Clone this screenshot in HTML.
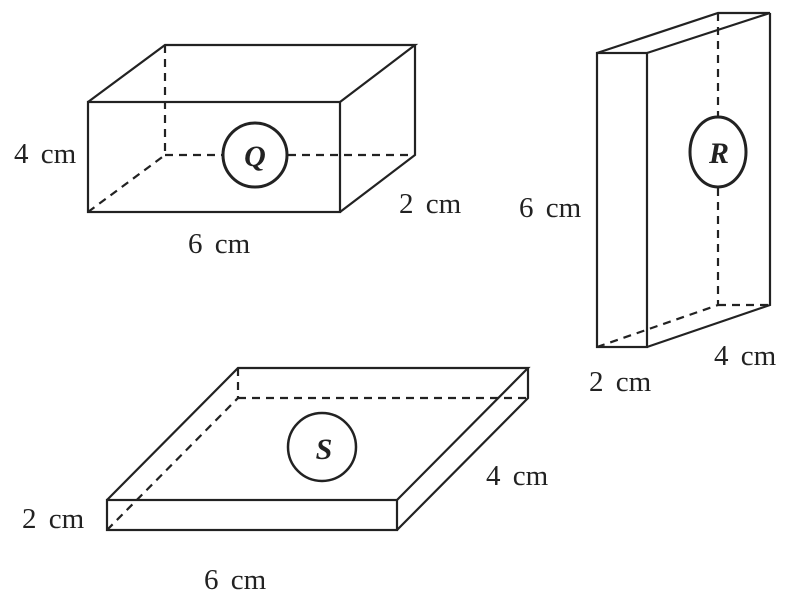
<!DOCTYPE html>
<html><head><style>body{margin:0;background:#fff}svg{display:block}</style></head><body>
<svg width="805" height="610" viewBox="0 0 805 610" xmlns="http://www.w3.org/2000/svg">
<g stroke="#222" stroke-width="2.2" fill="none">
<!-- Q -->
<rect x="88" y="102" width="252" height="110"/>
<polyline points="88,102 165,45 415,45 340,102"/>
<polyline points="415,45 415,155 340,212"/>
<g stroke-dasharray="8,6">
<line x1="165" y1="45" x2="165" y2="155"/>
<line x1="165" y1="155" x2="222" y2="155"/>
<line x1="288" y1="155" x2="415" y2="155"/>
<line x1="88" y1="212" x2="165" y2="155"/>
</g>
<circle cx="255" cy="155" r="32" stroke-width="3"/>
<!-- R -->
<rect x="597" y="53" width="50" height="294"/>
<polyline points="597,53 718,13 770,13 647,53"/>
<polyline points="770,13 770,305 647,347"/>
<g stroke-dasharray="8,6">
<line x1="718" y1="13" x2="718" y2="117"/>
<line x1="718" y1="188" x2="718" y2="305"/>
<line x1="718" y1="305" x2="770" y2="305"/>
<line x1="597" y1="347" x2="718" y2="305"/>
</g>
<ellipse cx="718" cy="152" rx="28" ry="35" stroke-width="3"/>
<!-- S -->
<rect x="107" y="500" width="290" height="30"/>
<polyline points="107,500 238,368 528,368 397,500"/>
<polyline points="528,368 528,398 397,530"/>
<g stroke-dasharray="8,6">
<line x1="238" y1="368" x2="238" y2="398"/>
<line x1="238" y1="398" x2="528" y2="398"/>
<line x1="107" y1="530" x2="238" y2="398"/>
</g>
<circle cx="322" cy="447" r="34" stroke-width="2.5"/>
</g>
<g font-family="Liberation Serif, serif" font-size="29" fill="#222" word-spacing="5">
<text x="14" y="163">4 cm</text>
<text x="399" y="213">2 cm</text>
<text x="188" y="253">6 cm</text>
<text x="519" y="217">6 cm</text>
<text x="589" y="391">2 cm</text>
<text x="714" y="365">4 cm</text>
<text x="486" y="485">4 cm</text>
<text x="22" y="528">2 cm</text>
<text x="204" y="589">6 cm</text>
<g font-weight="bold" font-style="italic" font-size="30" text-anchor="middle" word-spacing="0">
<text x="255" y="166">Q</text>
<text x="719" y="163">R</text>
<text x="324" y="459">S</text>
</g>
</g>
</svg>
</body></html>
